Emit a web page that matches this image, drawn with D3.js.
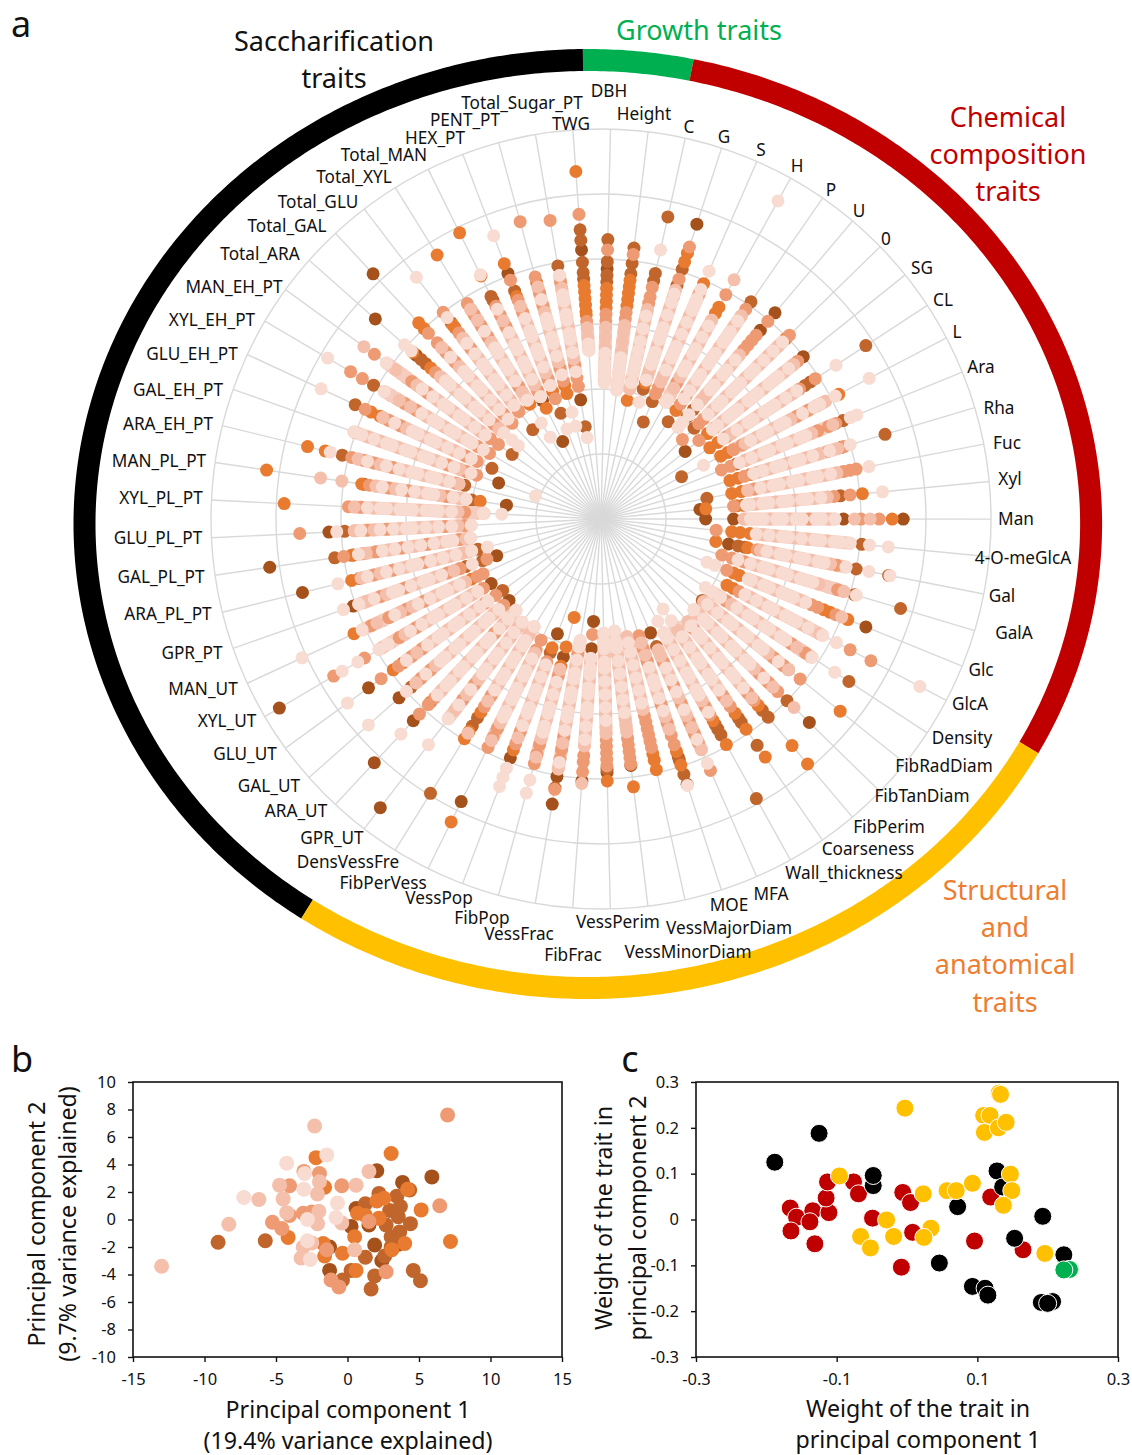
<!DOCTYPE html>
<html><head><meta charset="utf-8">
<script src="https://cdn.jsdelivr.net/npm/d3@7/dist/d3.min.js"></script>
<style>html,body{margin:0;background:#fff}svg{display:block}text{font-family:"Noto Sans","Open Sans",sans-serif;fill:#111}</style>
</head><body><svg id="c" width="1132" height="1455"></svg>
<script>
// ---------- DATA ----------
const traits=["DBH","Height","C","G","S","H","P","U","0","SG","CL","L","Ara","Rha","Fuc","Xyl","Man","4-O-meGlcA","Gal","GalA","Glc","GlcA","Density","FibRadDiam","FibTanDiam","FibPerim","Coarseness","Wall_thickness","MFA","MOE","VessMajorDiam","VessMinorDiam","VessPerim","FibFrac","VessFrac","FibPop","VessPop","FibPerVess","DensVessFre","GPR_UT","ARA_UT","GAL_UT","GLU_UT","XYL_UT","MAN_UT","GPR_PT","ARA_PL_PT","GAL_PL_PT","GLU_PL_PT","XYL_PL_PT","MAN_PL_PT","ARA_EH_PT","GAL_EH_PT","GLU_EH_PT","XYL_EH_PT","MAN_EH_PT","Total_ARA","Total_GAL","Total_GLU","Total_XYL","Total_MAN","HEX_PT","PENT_PT","Total_Sugar_PT","TWG"];
const ringTicks=[10,20,30,40,50,60];
// Range of the dense light core of genotypes on each trait's spoke
const coreInner=[21,20,20.5,22.5,23,20.6,22.5,23,23,22,22.5,23,24,24.5,23,22.5,22,24,25,22,24.5,25,20.5,20.3,20,20.7,20,20,22,20,19.5,17.4,17.6,21.5,19,24,24,23,19.5,20,19.2,21,21.5,22,23,23,20.5,20.3,20,18,21,22.5,21.2,22,21,22,20,21,22,21.5,21,22,23,23,26];
const coreOuter=[29.5,30,33,37,38,35,38,33,39,38,36,39,38.5,38,37,35,36,38.5,38.4,39,34,38.5,38.8,37,37,36,34,34,38.7,34,30,33,33,35,39,38,36,38,33,38.7,37,38,37,39.6,40.5,39.5,38,37.7,38,38,35,38.5,40.3,37,38.7,40.8,33,36,35,38,34,35,37,38,29.5];
// Genotype values per trait, grouped by PC1 shade class (darkest class first, lightest last)
const traitValues=[
[[38.5],[43,39.6,37.5,36.5],[35.5,34.5,33.5,32.5],[41.4,31.5,30.5],[29.5,28,26.5],[25.5,24,23,22,21]],
[[],[42,39.6,38],[37,36,35,34,33],[41,32,31],[30,29,27.5,26],[25,24,23,22,21,20]],
[[],[47.6,38.7,37.5],[18.7],[36.5,35,34],[33,31,29,27.5,22,20.5],[42.4,32,30,28,26.5,25,24,23,21.5]],
[[47.7],[40.4,37.8,21],[43,41.6,36,22],[44,38.8],[37,34,32,28,24,23],[36.4,35,33,31,30,29,27,26,25,22.5,18.9]],
[[],[19.7,16.3],[39.5,38],[37.5,22,21],[34,32,30,26,24,23],[41.6,38.5,37,36,35,33,31,29,28,27,25]],
[[],[],[37.3,36.2,22],[39.5,24],[42.1,35,33,31,28,25,23],[56,34,32,30,29,27,26,21,20.6]],
[[],[40.6,18.2],[20.3],[39.2,23,21.5],[38,36,32,28,25],[37,35,34,33,31,30,29,27,26,24,22.5]],
[[41.5,38],[22,20.5],[],[39.8,37,36,35,34],[33,31,28,25,24],[32,30,29,27,26,23,21,19.5,18.4]],
[[],[20],[39.7],[40.5,17.5,22,21],[38,36,34,31,27,24],[39,37,35,33,32,30,29,28,26,25,23]],
[[39.9,16.6],[],[21],[38.8,19.3,22.5],[38,36,32,28,24],[37,35,34,33,31,30,29,27,26,25,23,22]],
[[],[48.7,38.5,37.5],[20,21.5],[39.4,36.5,23],[35,33,29,26,24],[43.2,36,34,32,31,30,28,27,25,22.5]],
[[],[14,38.2],[41.3,37.5,20.8,22],[36,34,24.5,23],[39,33,30,27,25],[46.6,40.7,38,37,35,32,31,29,28,26,17.8]],
[[],[40.2,24,22.5],[],[39,37.8,36,20,21.5],[38.5,35,32,29,26,24],[42.5,41.4,34,33,31,30,28,27,25,23]],
[[],[45.6,38.6],[20.7,22,24],[39,36.5,23],[38,35,33,30,27,25],[40,36.7,34,32,31,29,28,26,24.5]],
[[],[16.6],[20.5,22],[40,39,38,24],[37,35,32,29,26,23],[42,36,34,33,31,30,28,27,25]],
[[15.3],[37,22],[40.4,16.2,21],[38.5,20.5,36],[35,33,30,27,24],[43.5,34,32,31,29,28,26,25,23,22.5]],
[[46.5,37.3,20.4,16.1],[],[44.8],[42.8,40,32],[41.4,39,22,29,26,35],[36,34,33,31,30,28,27,25,24,23]],
[[],[40.3],[20.2,21.5,23],[17.8],[35,32,30,27,25],[44.4,41.5,38.5,37,36,34,33,31,29,28,26,24]],
[[20],[45.1,40,21.5,22.5],[18,23],[37,24.5],[36,33,30,27,25],[45.3,42,38.4,35,34,32,31,29,28,26]],
[[],[48.1,40.7,37.5],[36.5],[19.4,38,21,23],[39,35,31,28,25],[41,34,33,32,30,29,27,26,24,22]],
[[44],[],[41,38,37,23,22],[39,20.9,36,35],[40,33,29,26],[34,32,31,30,28,27,25,24.5,18.9,17.6]],
[[35.8],[],[21.9,23],[46.9,43.3,24],[38,35,31,28,26],[55.4,40.9,38.5,36,34,33,32,30,29,27,25]],
[[],[45.6],[38.6,37],[37.6,35,23],[36,32,29,26,24],[43,38.8,34,33,31,30,28,27,25,22,19.2,20.5]],
[[],[37,20],[47.2],[39.3,36,34,21],[37,33,30,27,24,22,20.3],[35,32,31,29,28,26,25,23,21]],
[[44.8],[40],[],[38,36,34],[41.5,37,33,30,27,24,21],[35,32,31,29,28,26,25,23,22,20]],
[[],[39.9,38.5],[49.3,45.6,37.5],[36.5,35,22],[36,33,30,27,25,20.7],[34,32,31,29,28,26,24,23,21.5]],
[[],[42.3,38,37.2],[44.5,39.3,36.3],[35,33],[34,31,28,25,23,20.8],[32,30,29,27,26,24,22,19,16.8]],
[[],[49.2,38,37,36.2],[39.7,35.5],[34.5,33],[32,29,26,24,22],[34,31,30,28,27,25,23,21,20,18]],
[[19.1],[21.4],[],[42.2,37.5,36,34,31,28,24],[38.7,35,33,30,26,23,22],[41,37,32,29,27,25]],
[[42.9],[39,38.5,41.3],[39.8,37.6],[36.5,35,33,30,18.9,23,21],[34,32,28,25,22,20],[43.1,31,29,27,26,24]],
[[],[],[39.5,38,37],[36,35,34,33,32,31],[30,28,26,24,22,20,18.5],[29,27,25,23,21,19.5]],
[[38.2],[],[41.5],[38,37,36,35,34],[33,32,31,29,27,25,23,21],[30,28,26,24,22,20,19,17.4]],
[[39],[38.5],[40.3],[38,37,36,35,34],[33,32,30,28,26,24,21],[31,29,27,25,23,22,20,19,17.6]],
[[40.4,15.8,20],[],[],[17.8,39,37.5,36.5],[40.8,35,33,31,28,25,22],[34,32,30,29,27,26,24,23,21.5]],
[[44.5,40.2],[42],[],[42.2,37.5,36,34,21],[39,35,32,29,26,23],[38,33,31,30,28,27,25,24,22,19,20]],
[[22],[],[20.4,15.7,23.5],[39,37.5,36,25],[38,35,32,29,27,24],[43.7,41.6,34,33,31,30,28,26]],
[[39.3,18.9],[22],[21.2,38],[37,35,23.5],[36,33,30,27,25],[44,42.5,41,34,32,31,29,28,26,24]],
[[48.5],[36.7,35.8],[52],[39.2,37.5,36,20.8,22.5],[38,35,32,28,25,23],[34,33,31,30,29,27,26,24]],
[[],[49.7,37.5,36],[39.8,38.5,35],[34,32],[38.8,33,30,27,24,21],[31,29,28,26,25,23,22,19.5]],
[[55.9],[],[36.6],[35,32],[37,34,31,28,25,23,21],[43.7,38.7,36,33,30,29,27,26,24,22,20]],
[[51.2,42.4],[],[38.5],[41,39,37.6,24],[36,33,30,27,22],[45.2,37,35,34,32,31,29,28,26,25,23,21,19.2]],
[[41.5,18.9],[39],[],[37,35,20],[38,34,31,28,25,22],[47.8,40,36,33,32,30,29,27,26,24,23,21]],
[[44.2],[18.7],[39.5,37.7],[41.8,38.5,36,34,20,22],[35,32,29,26,24],[48.2,37,33,31,30,28,27,25,23,21.5]],
[[57.4,19.6],[],[39,37.5],[47.7,42.2,36,33,21],[35,31,28,25,23],[46.2,43.4,39.6,38,34,32,30,29,27,26,24,22]],
[[],[],[41.9,37,22],[39,36,33,30,21,20],[38,34,32,28,25,23],[50.7,40.5,35,31,29,27,26,24]],
[[40.4,17,38.5],[19.3,22],[],[18.6,36,32,25,23],[38,35,30,27,24],[42,39.5,37,34,33,31,29,28,26,21]],
[[47.3],[38.3,21,19.5],[39.5],[36,33,28],[38,35,31,26,24,22],[41.7,37,34,32,30,29,27,25,23,20.5,18]],
[[51.5,38.5],[41.4],[38.8],[40,37,35,31,27,22],[36.5,33,29,25,21],[37.7,34,32,30,28,26,24,23,20.3]],
[[41.9],[39.5],[],[46.4,36,33,24,21],[38,35,31,28,26,22],[40.7,37,34,32,30,29,27,25,23,20]],
[[],[],[48.8,19.1],[38.9,37,21],[38,35,32,28,24,22],[36,34,33,31,30,29,27,26,25,23,18.1,15.3]],
[[14.7],[20.1,36.8],[52,37.2,18.8],[36,33,30,24],[43.6,40.3,35,32,28,25,22],[34,31,29,27,26,23,21]],
[[],[41,21.6],[46.5,43.7],[39.5,37.5,36,33,23],[38.5,35,31,28,25,22.5],[42.9,37,34,32,30,29,27,26,24]],
[[16.7],[40.1],[],[20.3,22,25],[38,36,33,30,27,23],[40.3,39,37,35,34,32,31,29,28,26,24,21.2,10.7]],
[[],[41.7,18.5],[39,37.5],[40,36,34,21,23],[37,33,30,27,25],[47.5,35,32,31,29,28,26,24,22]],
[[],[40.6],[37.5,36.5],[44.7,42.6,35,33,19.9,22],[36,34,31,28,25],[48.8,38.7,32,30,29,27,26,24,23,21]],
[[],[16.9],[38,37],[43.1,36,33,19.5,21],[45.1,39,35,31,28,25,23],[40.8,34,32,30,29,27,26,24,22]],
[[46.4,38],[37,36],[38.7,35],[34,22],[33,30,27,24,21],[40.4,39,32,31,29,28,26,25,23,20,18.3,17]],
[[51.5],[],[41.2,40],[39,37,35,33,22,20.1],[36,32,29,26,24],[34,31,30,28,27,25,23,21]],
[[],[38,17.3],[37.5,37],[40,36,33,21,20.8],[35,31,28,25,23],[46.8,39,34,32,30,29,27,26,24,22]],
[[],[],[47.8,37.8,20.8,22],[39,37,35,33,24],[38,36,32,29,26,23],[34,31,30,28,27,25,21.5,17.4,14.8]],
[[13.3,20.3],[38.2,37.5],[49.1,41.7,19],[36.5,35,33,22],[34,31,28,25,23],[41.9,36,32,30,29,27,26,24,21]],
[[40.4],[37.5,17.4],[42,36.6,21],[39.3,36,34,23,19.8],[35,32,29,26,24],[46.6,33,31,30,28,27,25,22,14.8]],
[[],[],[37.7,21.3,20],[47.4,38.6,36,34,24,22],[37,33,30,27,25],[35,32,31,29,28,26,23,17,14.8]],
[[18.6],[39.5,14.4],[],[46.6,37,24,22,20.7],[36,33,30,27,25],[38,35,34,32,31,29,28,26,23,12.7]],
[[41.5],[44.6,43,39.6,38,37],[53.6,36,35,34,33,32,31.5],[47,30.5],[29.5,28],[27,26]]
];
// Panel b: genotype scores
const pc1=[-13,-8.3,-7.25,-6.2,-9.05,-5.75,-5.25,-4.6,-4.15,-4.75,-4.05,-4.25,-4.5,-4.25,-4.05,-2.3,-2.2,-1.45,-3.05,-3,-1.96,-1.96,-1.6,-3.05,-2.1,-0.4,0.6,-3.1,-2.5,-2,-2.8,-2.1,-0.7,-0.8,-0.4,-2.8,-3.1,-2.5,-1.7,-1.25,-1.45,-1.6,-3.25,-2.6,-1.25,-0.35,0.5,-0.35,-1.15,-0.6,0.25,0.5,0.25,0.6,1.25,1.9,1.9,1.65,2.7,2.4,2.6,3.1,4.6,5.1,7.2,7,3.05,2.05,1.5,5.9,6.45,5.15,4.4,3.85,4.35,4.2,3.45,2.2,2.55,2.05,1.25,0.6,0.7,1.25,2.2,2.95,3.7,3.55,1.5,1.5,2.7,3.65,3.05,4,3.55,3.05];
const pc2=[-3.4,-0.35,1.6,1.45,-1.65,-1.55,-0.2,-0.65,-1.3,2.5,2.45,4.1,1.5,0.5,0.3,6.8,4.5,4.7,3.5,3.35,3.35,2.75,2.35,2.2,1.85,2.45,2.5,0.45,0.55,0.6,0,-0.3,1.2,0.15,-0.25,-1.55,-2,-1.7,-1.75,-2,-2.2,-2.65,-2.8,-2.9,-3.7,-2.45,-2.2,-4.4,-4.4,-4.9,-0.5,-1.25,-3.7,-3.7,-2.75,-1.85,-4.1,-5.05,-3.8,-3,-2.65,-2.2,-3.7,-4.45,-1.6,7.6,4.8,3.55,3.5,3.1,1,0.7,-0.3,2.7,2.15,2.2,1.7,1.9,1.55,1.35,1.15,0.8,0.45,0.3,0.1,0.65,0.95,0.2,-0.15,-0.4,-0.4,-0.9,-1.25,-1.75,-1.8,-2];
const pcShade=[4,4,5,4,1,1,3,3,2,4,3,5,4,4,3,4,2,5,3,5,3,4,2,5,4,3,4,3,3,4,5,4,5,5,4,5,4,4,2,0,3,2,4,5,0,2,4,1,3,3,0,2,1,2,1,0,1,1,3,0,1,2,1,1,2,3,2,0,4,0,3,2,1,0,1,2,1,1,2,2,1,0,2,2,2,1,1,1,3,0,1,1,1,2,0,1];
// Panel c: trait weights by group
const redW1=[-0.166,-0.157,-0.134,-0.138,-0.165,-0.131,-0.111,-0.115,-0.113,-0.076,-0.069,-0.049,-0.006,0.005,0.008,-0.008,0.096,0.119,0.165];
const redW2=[0.025,0.005,0.019,-0.005,-0.025,-0.053,0.015,0.047,0.082,0.082,0.056,0.003,0.059,0.037,-0.028,-0.104,-0.047,0.049,-0.066];
const blackW1=[-0.188,-0.125,-0.048,-0.048,0.072,0.128,0.136,0.193,0.153,0.223,0.046,0.093,0.111,0.115,0.191,0.207,0.2,0.232];
const blackW2=[0.125,0.188,0.074,0.096,0.028,0.106,0.071,0.007,-0.041,-0.077,-0.095,-0.146,-0.15,-0.165,-0.181,-0.179,-0.183,-0.109];
const yellowW1=[-0.096,-0.003,0.023,0.057,0.07,0.093,0.131,0.133,0.109,0.118,0.11,0.13,0.141,0.147,0.149,0.137,0.196,-0.029,-0.066,-0.052,-0.019,0.034,0.024];
const yellowW2=[0.095,0.243,0.056,0.063,0.063,0.079,0.276,0.273,0.227,0.227,0.19,0.2,0.212,0.099,0.063,0.031,-0.074,-0.001,-0.037,-0.062,-0.037,-0.019,-0.039];
const greenW1=[0.231,0.223];
const greenW2=[-0.109,-0.11];
const pcXTicks=[-15,-10,-5,0,5,10,15], pcYTicks=[10,8,6,4,2,0,-2,-4,-6,-8,-10];
const wXTicks=[-0.3,-0.1,0.1,0.3], wYTicks=[0.3,0.2,0.1,0,-0.1,-0.2,-0.3];

// ---------- STYLE / LAYOUT ----------
const shades=["#a4511b","#c0652b","#e87b30","#ee9a72","#f4bfab","#f8dbd1"];
const coreShade="#f6ccbe";
const groupArcs=[
 {c:"#000000",a:213.9,b:359.45},{c:"#00b050",a:359.45,b:371.9},{c:"#c00000",a:371.9,b:478.8},{c:"#ffc000",a:478.8,b:573.9}];
const labelPos=[[609,91],[644,114],[689,127],[724,137],[761,150],[797,166],[831,190],[859,211],[886,239],[922,268],[943,300],[957,332],[981,367],[999,408],[1007,443],[1010,479],[1016,519],[1023,558],[1002,596],[1014,633],[981,670],[970,704],[962,738],[944,766],[922,796],[889,827],[868,849],[844,873],[771,894],[729,905],[729,928],[688,952],[618,922],[573,955],[519,934],[482,918],[439,898],[383,883],[348,862],[332,838],[296,811],[269,786],[245,754],[227,721],[203,689],[192,653],[168,614],[161,577],[158,538],[161,498],[159,461],[168,424],[178,390],[192,354],[212,320],[234,287],[260,254],[287,226],[318,202],[354,177],[384,155],[435,138],[465,120],[522,103],[571,124]];
const svg=d3.select("#c");
const cx=601,cy=519,dotR=6.5;
const rScale=d3.scaleLinear().domain([0,60]).range([0,390]);
const angle=d3.scaleLinear().domain([0,traits.length]).range([1.4,361.4]);
const px=(i,v)=>cx+rScale(v)*Math.sin(angle(i)*Math.PI/180);
const py=(i,v)=>cy-rScale(v)*Math.cos(angle(i)*Math.PI/180);

// group ring (ellipse)
const ringLine=d3.line().x(t=>587.8+503.3*Math.sin(t*Math.PI/180)).y(t=>524-464*Math.cos(t*Math.PI/180));
svg.append("g").selectAll("path").data(groupArcs).join("path")
 .attr("d",g=>ringLine(d3.range(g.a,g.b,0.5).concat([g.b])))
 .attr("fill","none").attr("stroke",g=>g.c).attr("stroke-width",22);

// grid
const grid=svg.append("g").attr("fill","none").attr("stroke","#d9d9d9").attr("stroke-width",1.4);
grid.selectAll("circle").data(ringTicks).join("circle").attr("cx",cx).attr("cy",cy).attr("r",d=>rScale(d));
grid.selectAll("line").data(traits).join("line")
 .attr("x1",cx).attr("y1",cy).attr("x2",(d,i)=>px(i,60)).attr("y2",(d,i)=>py(i,60));

// points: darkest class first, lightest on top; the dense light core sits between
const pts=[];
shades.forEach((s,k)=>traitValues.forEach((row,i)=>row[k].forEach(v=>pts.push({i,v,k}))));
function drawDots(list){svg.append("g").selectAll("circle").data(list).join("circle")
 .attr("cx",d=>px(d.i,d.v)).attr("cy",d=>py(d.i,d.v)).attr("r",dotR).attr("fill",d=>shades[d.k]);}
drawDots(pts.filter(d=>d.k<3));
svg.append("g").attr("stroke",coreShade).attr("stroke-width",dotR*2).attr("stroke-linecap","round")
 .selectAll("line").data(traits).join("line")
 .attr("x1",(d,i)=>px(i,coreInner[i])).attr("y1",(d,i)=>py(i,coreInner[i]))
 .attr("x2",(d,i)=>px(i,coreOuter[i])).attr("y2",(d,i)=>py(i,coreOuter[i]));
drawDots(pts.filter(d=>d.k>=3));

// trait labels
svg.append("g").attr("font-size",17.2).attr("text-anchor","middle").selectAll("text").data(traits).join("text")
 .attr("x",(d,i)=>labelPos[i][0]).attr("y",(d,i)=>labelPos[i][1]).attr("dy","0.36em").text(d=>d);

// group titles
function lines(arr,x,y0,dy,size,color){arr.forEach((t,i)=>svg.append("text").attr("x",x).attr("y",y0+i*dy).attr("dy","0.36em").attr("text-anchor","middle").attr("font-size",size).style("fill",color).text(t));}
lines(["Saccharification","traits"],334,41,37,27,"#111");
lines(["Growth traits"],699,30,0,27,"#00b050");
lines(["Chemical","composition","traits"],1008,117,37,27,"#c00000");
lines(["Structural","and","anatomical","traits"],1005,890,37.3,27,"#ed7d31");
lines(["a"],21,24,0,36,"#111");lines(["b"],22,1059,0,36,"#111");lines(["c"],630,1059,0,36,"#111");

// scatter panels
function panel(x0,x1,y0,y1,xd,yd,xt,yt,fmt){
 const x=d3.scaleLinear().domain(xd).range([x0,x1]),y=d3.scaleLinear().domain(yd).range([y1,y0]);
 const g=svg.append("g");
 const ax=d3.axisBottom(x).tickValues(xt).tickSize(5).tickSizeOuter(0).tickPadding(11).tickFormat(fmt);
 const ay=d3.axisLeft(y).tickValues(yt).tickSize(5).tickSizeOuter(0).tickPadding(12).tickFormat(fmt);
 for(const [a,t] of [[ax,`translate(0,${y1})`],[ay,`translate(${x0},0)`]]){
  const s=g.append("g").attr("transform",t).call(a);
  s.selectAll("text").attr("font-size",16.5).attr("font-family",'"Noto Sans"').style("fill","#111");
  s.selectAll("line").attr("stroke","#111").attr("stroke-width",1.4);
  s.select("path").attr("stroke","none");
 }
 g.append("rect").attr("x",x0).attr("y",y0).attr("width",x1-x0).attr("height",y1-y0).attr("fill","none").attr("stroke","#111").attr("stroke-width",1.6);
 return {x,y,g};
}
const pb=panel(133,562,1082,1357,[-15,15],[-10,10],pcXTicks,pcYTicks,d=>d);
const order=d3.range(pc1.length).sort((a,b)=>pcShade[a]-pcShade[b]);
pb.g.append("g").selectAll("circle").data(order).join("circle")
 .attr("cx",i=>pb.x(pc1[i])).attr("cy",i=>pb.y(pc2[i])).attr("r",7.5).attr("fill",i=>shades[pcShade[i]]);

const pc=panel(696,1118,1082,1357,[-0.3,0.3],[-0.3,0.3],wXTicks,wYTicks,d=>d===0?"0":d);
[[redW1,redW2,"#c00000"],[blackW1,blackW2,"#000"],[yellowW1,yellowW2,"#ffc000"],[greenW1,greenW2,"#00b050"]].forEach(([a,b,col])=>{
 pc.g.append("g").selectAll("circle").data(a).join("circle")
  .attr("cx",d=>pc.x(d)).attr("cy",(d,i)=>pc.y(b[i])).attr("r",9).attr("fill",col).attr("stroke","#fff").attr("stroke-width",1);
});

lines(["Principal component 1","(19.4% variance explained)"],348,1410,30.5,23.2,"#111");
lines(["Weight of the trait in","principal component 1"],918,1409,30.5,23.2,"#111");
function vlines(arr,xs,y,size){arr.forEach((t,i)=>svg.append("text").attr("transform",`translate(${xs[i]},${y}) rotate(-90)`).attr("dy","0.36em").attr("text-anchor","middle").attr("font-size",size).text(t));}
vlines(["Principal component 2","(9.7% variance explained)"],[37,68],1224,23.2);
vlines(["Weight of the trait in","principal component 2"],[604,638],1218,23.2);
</script></body></html>
